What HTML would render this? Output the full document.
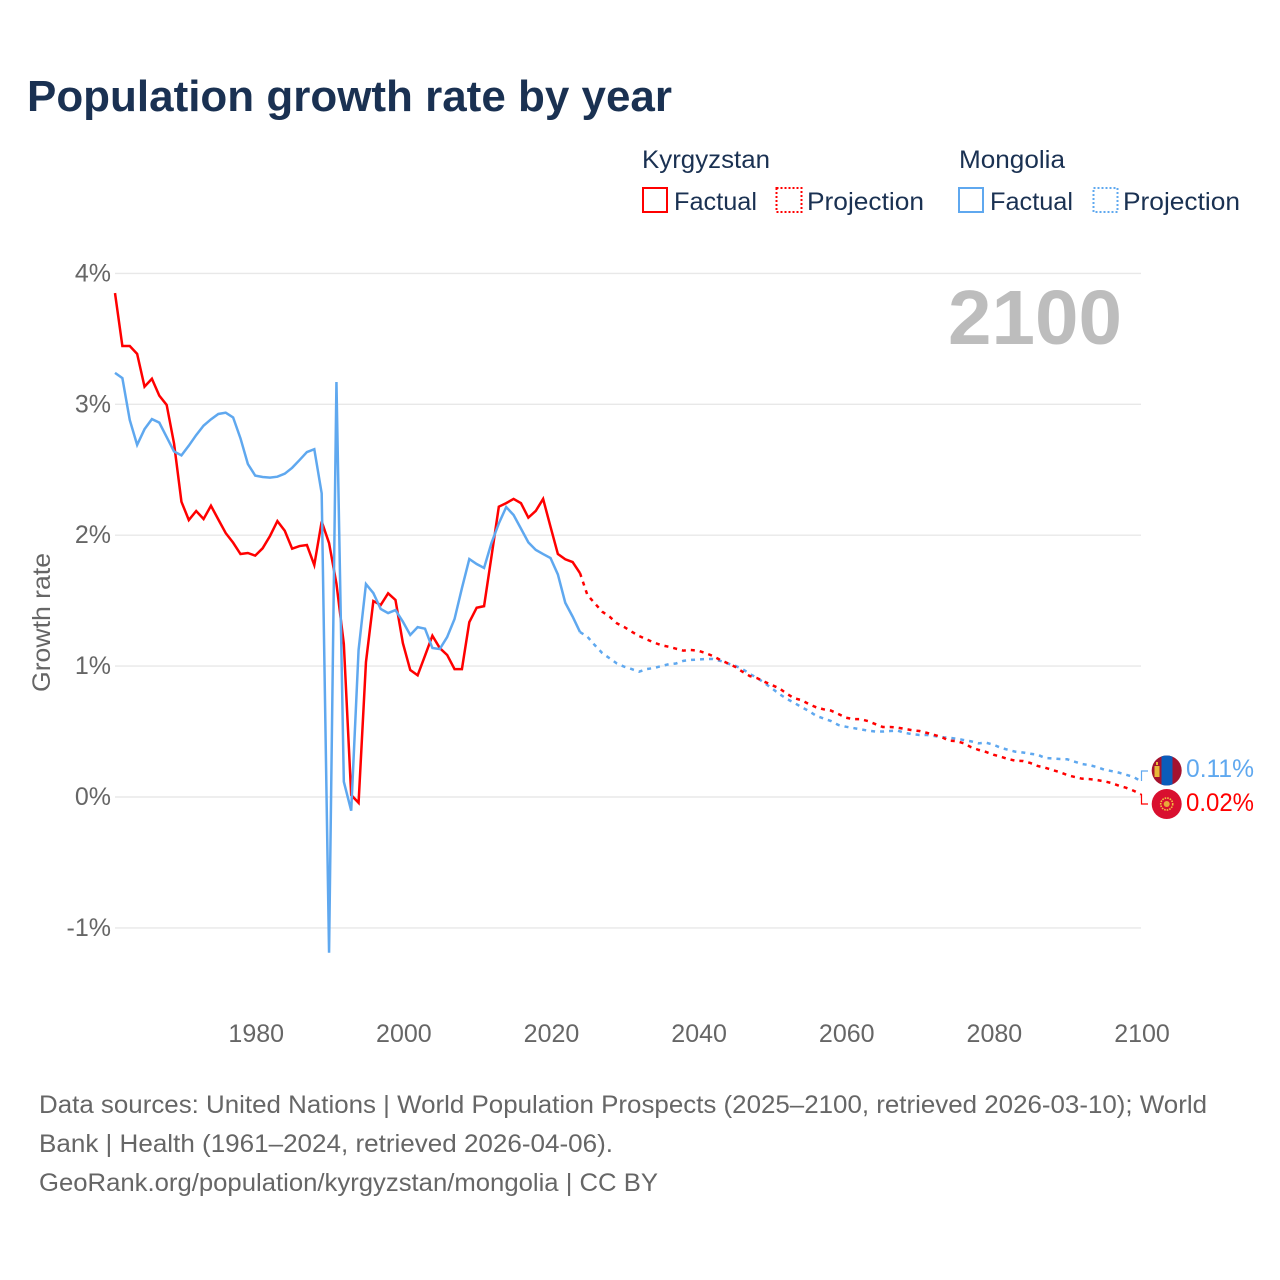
<!DOCTYPE html>
<html lang="en">
<head>
<meta charset="utf-8">
<title>Population growth rate by year</title>
<style>
html,body{margin:0;padding:0;background:#fff;}
svg{display:block;font-family:"Liberation Sans",sans-serif;}
</style>
</head>
<body>
<svg id="chart" xmlns="http://www.w3.org/2000/svg" width="1280" height="1280" viewBox="0 0 1280 1280">
  <rect x="0" y="0" width="1280" height="1280" fill="#fff"/>
  <text x="27" y="111" font-size="44" font-weight="700" fill="#1a3152" textLength="645" lengthAdjust="spacingAndGlyphs">Population growth rate by year</text>

  <g font-size="25" fill="#1a3152">
    <text x="642" y="168" textLength="128" lengthAdjust="spacingAndGlyphs">Kyrgyzstan</text>
    <text x="959" y="168" textLength="106" lengthAdjust="spacingAndGlyphs">Mongolia</text>
    <rect x="643" y="188" width="24" height="24" fill="none" stroke="#ff0000" stroke-width="2"/>
    <text x="674" y="210" textLength="83" lengthAdjust="spacingAndGlyphs">Factual</text>
    <rect x="776.5" y="188" width="25" height="24" fill="none" stroke="#ff0000" stroke-width="2" stroke-dasharray="2 2"/>
    <text x="807" y="210" textLength="117" lengthAdjust="spacingAndGlyphs">Projection</text>
    <rect x="959" y="188" width="24" height="24" fill="none" stroke="#5fa8ef" stroke-width="2"/>
    <text x="990" y="210" textLength="83" lengthAdjust="spacingAndGlyphs">Factual</text>
    <rect x="1093.5" y="188" width="24" height="24" fill="none" stroke="#5fa8ef" stroke-width="2" stroke-dasharray="2 2"/>
    <text x="1123" y="210" textLength="117" lengthAdjust="spacingAndGlyphs">Projection</text>
  </g>

  <g id="grid"></g>
  <g id="y-ticks" font-size="25" fill="#666"></g>
  <g id="x-ticks" font-size="25" fill="#666"></g>
  <text transform="translate(50,692) rotate(-90)" font-size="25" fill="#666" textLength="139" lengthAdjust="spacingAndGlyphs">Growth rate</text>
  <text x="948" y="344" font-size="77" font-weight="700" fill="#bdbdbd" textLength="174" lengthAdjust="spacingAndGlyphs">2100</text>

  <g id="series"></g>

  <path d="M1141.5 781V771H1148" fill="none" stroke="#5fa8ef" stroke-width="1.2"/>
  <path d="M1141.5 794V804H1148" fill="none" stroke="#ff0000" stroke-width="1.2"/>

  <defs>
    <clipPath id="flag-clip-mn"><circle cx="1166.7" cy="770.5" r="15"/></clipPath>
  </defs>
  <g clip-path="url(#flag-clip-mn)">
    <rect x="1150" y="754" width="34" height="34" fill="#a5122e"/>
    <rect x="1161.5" y="754" width="11" height="34" fill="#0b5cba"/>
    <rect x="1154.5" y="766" width="5" height="11" fill="#e8b93a"/>
    <rect x="1156" y="762" width="2" height="3" fill="#e8b93a"/>
  </g>
  <g>
    <circle cx="1166.7" cy="804" r="15" fill="#d90f2f"/>
    <circle cx="1166.7" cy="804" r="6" fill="none" stroke="#f1c040" stroke-width="1.6" stroke-dasharray="1.6 1"/>
    <circle cx="1166.7" cy="804" r="3" fill="#e8a93a"/>
  </g>

  <text x="1186" y="777" font-size="25" fill="#5fa8ef" textLength="68" lengthAdjust="spacingAndGlyphs">0.11%</text>
  <text x="1186" y="811" font-size="25" fill="#ff0000" textLength="68" lengthAdjust="spacingAndGlyphs">0.02%</text>

  <g font-size="25" fill="#666">
    <text x="39" y="1113" textLength="1168" lengthAdjust="spacingAndGlyphs">Data sources: United Nations | World Population Prospects (2025–2100, retrieved 2026-03-10); World</text>
    <text x="39" y="1152" textLength="574" lengthAdjust="spacingAndGlyphs">Bank | Health (1961–2024, retrieved 2026-04-06).</text>
    <text x="39" y="1191" textLength="619" lengthAdjust="spacingAndGlyphs">GeoRank.org/population/kyrgyzstan/mongolia | CC BY</text>
  </g>
</svg>
<script>
const firstFactualYear = 1961;
const firstProjectionYear = 2024;
const yTickValues = [-1, 0, 1, 2, 3, 4];
const yTickLabels = ['-1%', '0%', '1%', '2%', '3%', '4%'];
const xTickValues = [1980, 2000, 2020, 2040, 2060, 2080, 2100];
const xTickLabels = ['1980', '2000', '2020', '2040', '2060', '2080', '2100'];

const kyrgyzstanFactual = [
  3.85, 3.445, 3.445, 3.385, 3.135, 3.195, 3.066, 2.995, 2.70, 2.256,
  2.116, 2.185, 2.124, 2.225, 2.12, 2.016, 1.943, 1.856, 1.864, 1.844,
  1.90, 1.994, 2.108, 2.034, 1.897, 1.917, 1.925, 1.772, 2.104, 1.94,
  1.63, 1.17, 0.015, -0.044, 1.03, 1.497, 1.467, 1.556, 1.505, 1.176,
  0.97, 0.93, 1.08, 1.232, 1.138, 1.085, 0.977, 0.977, 1.336, 1.446,
  1.458, 1.836, 2.218, 2.245, 2.277, 2.245, 2.134, 2.185, 2.277, 2.065,
  1.856, 1.816, 1.795, 1.71
];
const kyrgyzstanProjection = [
  1.71, 1.543, 1.48, 1.416, 1.378, 1.327, 1.298, 1.263, 1.23, 1.205,
  1.18, 1.16, 1.148, 1.133, 1.118, 1.123, 1.118, 1.10, 1.077, 1.047,
  1.022, 0.995, 0.957, 0.924, 0.908, 0.88, 0.855, 0.83, 0.79, 0.755,
  0.74, 0.71, 0.685, 0.67, 0.66, 0.634, 0.606, 0.595, 0.595, 0.58,
  0.557, 0.535, 0.535, 0.53, 0.52, 0.51, 0.504, 0.49, 0.474, 0.458,
  0.43, 0.427, 0.41, 0.38, 0.36, 0.344, 0.323, 0.308, 0.29, 0.277,
  0.275, 0.26, 0.237, 0.224, 0.206, 0.19, 0.168, 0.153, 0.14, 0.137,
  0.13, 0.12, 0.107, 0.086, 0.07, 0.048, 0.02
];
const mongoliaFactual = [
  3.24, 3.2, 2.88, 2.69, 2.81, 2.887, 2.86, 2.75, 2.64, 2.61,
  2.684, 2.765, 2.837, 2.885, 2.926, 2.936, 2.9, 2.74, 2.544, 2.455,
  2.445, 2.44, 2.447, 2.47, 2.515, 2.574, 2.635, 2.657, 2.32, -1.19,
  3.17, 0.117, -0.105, 1.123, 1.627, 1.558, 1.436, 1.405, 1.428, 1.34,
  1.238, 1.298, 1.286, 1.138, 1.13, 1.222, 1.36, 1.595, 1.818, 1.78,
  1.75, 1.94, 2.09, 2.215, 2.154, 2.05, 1.945, 1.888, 1.856, 1.826,
  1.70, 1.484, 1.378, 1.26
];
const mongoliaProjection = [
  1.26, 1.225, 1.16, 1.10, 1.06, 1.02, 0.995, 0.977, 0.957, 0.977,
  0.985, 1.0, 1.014, 1.02, 1.04, 1.047, 1.05, 1.054, 1.054, 1.04,
  1.02, 1.003, 0.978, 0.94, 0.91, 0.87, 0.83, 0.787, 0.75, 0.72,
  0.687, 0.657, 0.62, 0.6, 0.58, 0.55, 0.537, 0.527, 0.517, 0.507,
  0.5, 0.5, 0.504, 0.507, 0.49, 0.48, 0.474, 0.474, 0.466, 0.456,
  0.453, 0.445, 0.435, 0.425, 0.41, 0.415, 0.4, 0.376, 0.36, 0.346,
  0.34, 0.33, 0.323, 0.298, 0.295, 0.29, 0.288, 0.27, 0.252, 0.244,
  0.229, 0.209, 0.198, 0.186, 0.17, 0.153, 0.12
];

const NS = 'http://www.w3.org/2000/svg';
const xScale = function (year) { return 115 + (year - 1961) * (1141 - 115) / (2100 - 1961); };
const yScale = function (value) { return 797 - value * 130.9; };

function linePath(values, startYear) {
  return values.map(function (v, i) {
    return (i ? 'L' : 'M') + xScale(startYear + i).toFixed(2) + ' ' + yScale(v).toFixed(2);
  }).join('');
}

const gridGroup = document.getElementById('grid');
const yTickGroup = document.getElementById('y-ticks');
const xTickGroup = document.getElementById('x-ticks');
const seriesGroup = document.getElementById('series');

yTickValues.forEach(function (value, i) {
  const line = document.createElementNS(NS, 'line');
  
  
  line.setAttribute('x1', 115);
  line.setAttribute('x2', 1141);
  line.setAttribute('y1', yScale(value));
  line.setAttribute('y2', yScale(value));
  line.setAttribute('stroke', '#e8e8e8');
  line.setAttribute('stroke-width', '1.4');
  gridGroup.appendChild(line);

  const label = document.createElementNS(NS, 'text');
  
  
  label.setAttribute('x', 111);
  label.setAttribute('y', yScale(value) + 8);
  label.setAttribute('text-anchor', 'end');
  label.textContent = yTickLabels[i];
  yTickGroup.appendChild(label);
});

xTickValues.forEach(function (value, i) {
  const label = document.createElementNS(NS, 'text');
  
  
  label.setAttribute('x', xScale(value) + 1);
  label.setAttribute('y', 1042);
  label.setAttribute('text-anchor', 'middle');
  label.textContent = xTickLabels[i];
  xTickGroup.appendChild(label);
});

function addSeries(name, values, startYear, color, dash) {
  const path = document.createElementNS(NS, 'path');
  
  
  path.setAttribute('d', linePath(values, startYear));
  path.setAttribute('fill', 'none');
  path.setAttribute('stroke', color);
  path.setAttribute('stroke-width', '2.5');
  path.setAttribute('stroke-linejoin', 'miter');
  if (dash) { path.setAttribute('stroke-dasharray', dash); }
  seriesGroup.appendChild(path);
}

addSeries('kyrgyzstan-factual-line', kyrgyzstanFactual, firstFactualYear, '#ff0000', null);
addSeries('mongolia-factual-line', mongoliaFactual, firstFactualYear, '#5fa8ef', null);
addSeries('mongolia-projection-line', mongoliaProjection, firstProjectionYear, '#5fa8ef', '4 5');
addSeries('kyrgyzstan-projection-line', kyrgyzstanProjection, firstProjectionYear, '#ff0000', '4 5');
</script>
</body>
</html>
